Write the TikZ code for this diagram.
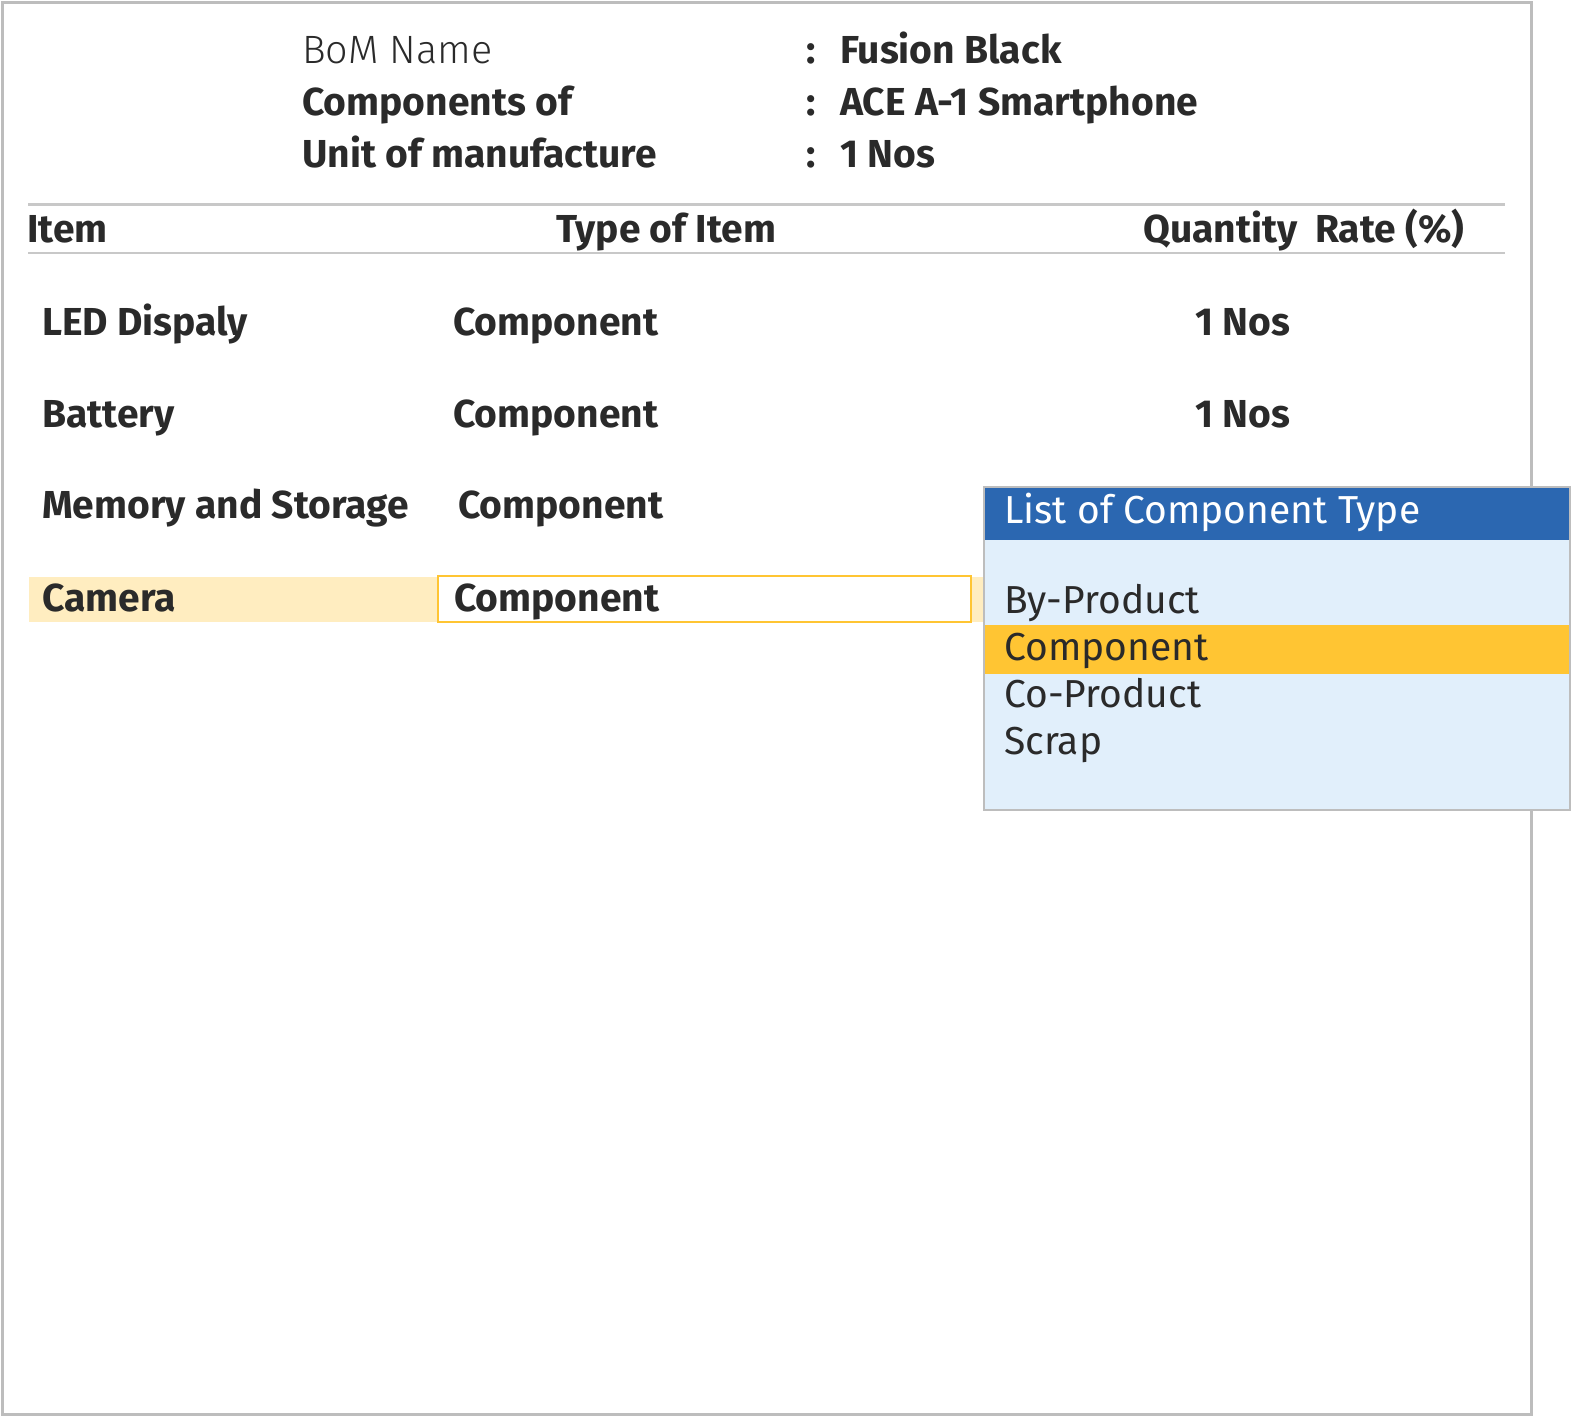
\documentclass[tikz,border=0pt]{standalone}
\usepackage{fontspec}
\setmainfont{Fira Sans}
\newfontfamily\lightfont{Fira Sans Light}
\definecolor{ink}{HTML}{2A2A2A}
\definecolor{rulegray}{HTML}{C8C8C8}
\definecolor{framegray}{HTML}{BDBDBD}
\definecolor{listblue}{HTML}{2B67B1}
\definecolor{listbg}{HTML}{E1EFFB}
\definecolor{pickorange}{HTML}{FFC533}
\definecolor{rowyellow}{HTML}{FFEDC0}
\begin{document}
\begin{tikzpicture}[x=1pt, y=-1pt,
    txt/.style={anchor=base west, inner sep=0pt, text=ink, font=\fontsize{39}{47}\selectfont\bfseries},
    thin/.style={anchor=base west, inner sep=0pt, text=ink, font=\fontsize{39.5}{47}\selectfont\lightfont},
    entry/.style={anchor=base west, inner sep=0pt, text=ink, font=\fontsize{39}{47}\selectfont}]
    \useasboundingbox (0,0) rectangle (1572,1417);

    % Outer frame
    \draw[framegray, line width=3pt] (2,2) rectangle (1531,1414);

    % Header block
    \node[thin] (bomname) at (302,63) {BoM Name};
    \node[txt] (compof) at (302,115) {Components of};
    \node[txt] (unitman) at (302,167) {Unit of manufacture};
    \node[txt] (c1) at (806,63) {:};
    \node[txt] (c2) at (806,115) {:};
    \node[txt] (c3) at (806,167) {:};
    \node[txt] (bomval) at (840,63) {Fusion Black};
    \node[txt] (compval) at (840,115) {ACE A-1 Smartphone};
    \node[txt] (unitval) at (840,167) {1 Nos};

    % Column titles between two rules
    \draw[rulegray, line width=3pt] (28,204) -- (1505,204);
    \draw[rulegray, line width=2pt] (28,253) -- (1505,253);
    \node[txt] (hitem) at (27,242) {Item};
    \node[txt] (htype) at (556,242) {Type of Item};
    \node[txt] (hqty) at (1143,242) {Quantity};
    \node[txt] (hrate) at (1315,242) {Rate (\%)};

    % Rows
    \node[txt] (led) at (42,335) {LED Dispaly};
    \node[txt] (ledtype) at (453,335) {Component};
    \node[txt] (ledqty) at (1195,335) {1 Nos};
    \node[txt] (bat) at (42,427) {Battery};
    \node[txt] (battype) at (453,427) {Component};
    \node[txt] (batqty) at (1195,427) {1 Nos};
    \node[txt] (mem) at (42,518) {Memory and Storage};
    \node[txt] (memtype) at (458,518) {Component};

    % Current row
    \fill[rowyellow] (29,577) rectangle (984,622);
    \draw[pickorange, line width=2pt, fill=white] (438,576) rectangle (971,622);
    \node[txt] (cam) at (42,611) {Camera};
    \node[txt] (camtype) at (454,611) {Component};

    % Pop-up list
    \draw[framegray, line width=2pt, fill=listbg] (984,487) rectangle (1570,810);
    \fill[listblue] (985,488) rectangle (1569,540);
    \fill[pickorange] (985,625) rectangle (1569,674);
    \node[entry, text=white] (listtitle) at (1004,523) {List of Component Type};
    \node[entry] (byprod) at (1004,613) {By-Product};
    \node[entry] (comp) at (1004,660) {Component};
    \node[entry] (coprod) at (1004,707) {Co-Product};
    \node[entry] (scrap) at (1004,754) {Scrap};
\end{tikzpicture}
\end{document}
